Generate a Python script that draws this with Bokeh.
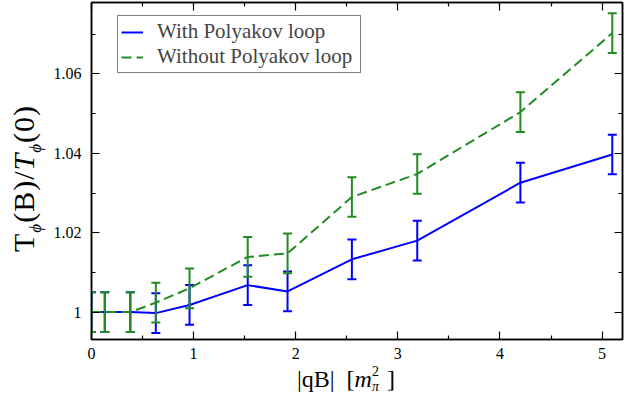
from bokeh.plotting import figure
from bokeh.models import (ColumnDataSource, Legend, LegendItem, FixedTicker, Div,
                          LinearAxis, CustomJSTickFormatter, Range1d)
from bokeh.layouts import row, column
from bokeh.embed import file_html
from bokeh.resources import INLINE

# ---------------- data ----------------
qB = [0.0, 0.13, 0.38, 0.63, 0.96, 1.53, 1.92, 2.55, 3.19, 4.20, 5.10]
with_pl = [1.0, 1.0, 1.0, 0.99975, 1.0018, 1.0068, 1.0052, 1.0133, 1.0180, 1.0326, 1.0397]
without_pl = [1.0, 1.0, 1.0, 1.0024, 1.0060, 1.0139, 1.0148, 1.0290, 1.0348, 1.0504, 1.0703]
err_with = [0.005] * 11
err_without = [0.005] * 11

x_ticks = [0, 1, 2, 3, 4, 5]
x_minor = [0.5, 1.5, 2.5, 3.5, 4.5]
y_ticks = [1.0, 1.02, 1.04, 1.06]
y_minor = [1.01, 1.03, 1.05, 1.07]

series_names = ["With Polyakov loop", "Without Polyakov loop"]

BLUE = "#0000ff"
GREEN = "#228b22"
FONT = "Liberation Serif"

YLAB_W = 46          # width of the y-label strip
PLOT_H = 369         # height of the figure (x-label strip below)

p = figure(width=636 - YLAB_W, height=PLOT_H, output_backend="svg", toolbar_location=None,
           x_range=Range1d(0, 5.2), y_range=Range1d(0.9931, 1.078),
           min_border_left=91 - YLAB_W, min_border_right=14, min_border_top=2,
           min_border_bottom=PLOT_H - 339,
           x_axis_location=None, y_axis_location=None)
p.xgrid.visible = False
p.ygrid.visible = False
p.outline_line_color = "black"
p.outline_line_width = 1.5
p.background_fill_color = "white"
p.border_fill_color = "white"

yfmt = CustomJSTickFormatter(code="return tick.toFixed(2).replace(/\\.?0+$/, '');")
blankfmt = CustomJSTickFormatter(code="return '';")

def make_axis(kind, loc, labels):
    ticker = FixedTicker(ticks=x_ticks if kind == "x" else y_ticks,
                         minor_ticks=x_minor if kind == "x" else y_minor)
    ax = LinearAxis(ticker=ticker)
    if kind == "y":
        ax.formatter = yfmt
    ax.major_tick_in = 8
    ax.major_tick_out = 0
    ax.minor_tick_in = 4
    ax.minor_tick_out = 0
    ax.major_tick_line_width = 1.2
    ax.minor_tick_line_width = 1.2
    ax.axis_line_width = 1.5
    ax.axis_line_color = "black"
    ax.major_label_text_font = FONT
    ax.major_label_text_color = "black"
    if labels:
        ax.major_label_text_font_size = "16px"
        ax.major_label_standoff = 10 if kind == "y" else 8
    else:
        ax.formatter = blankfmt
        ax.major_label_standoff = 0
        ax.axis_label_standoff = 0
    p.add_layout(ax, loc)
    return ax

make_axis("x", "below", True)
make_axis("y", "left", True)
make_axis("x", "above", False)
make_axis("y", "right", False)

def draw(ys, errs, color, dash):
    src = ColumnDataSource(dict(x=qB, y=ys,
                                lo=[v - e for v, e in zip(ys, errs)],
                                hi=[v + e for v, e in zip(ys, errs)]))
    r = p.line("x", "y", source=src, line_color=color, line_width=2, line_dash=dash)
    p.segment(x0="x", y0="lo", x1="x", y1="hi", source=src, line_color=color, line_width=2)
    p.scatter("x", "lo", source=src, marker="dash", size=9, line_color=color, line_width=2)
    p.scatter("x", "hi", source=src, marker="dash", size=9, line_color=color, line_width=2)
    return r

r1 = draw(with_pl, err_with, BLUE, "solid")
r2 = draw(without_pl, err_without, GREEN, "10 5")

legend = Legend(items=[LegendItem(label=series_names[0], renderers=[r1]),
                       LegendItem(label=series_names[1], renderers=[r2])],
                location=(26, 266), padding=3, spacing=0, glyph_width=22, glyph_height=20,
                label_height=20, label_width=200, label_standoff=14, margin=0,
                label_text_font=FONT, label_text_font_size="21px",
                border_line_color="black", border_line_width=1,
                background_fill_alpha=1.0)
p.add_layout(legend, "center")

# ---------------- axis labels as real (HTML) text ----------------
sub = "font-size:17px;vertical-align:-7px;font-style:italic;line-height:0;"
ylab_html = (
    '<div style="width:300px;height:46px;line-height:46px;padding-top:1px;'
    'text-align:center;white-space:nowrap;font-family:\'Liberation Serif\',serif;'
    'font-size:30px;letter-spacing:1px;color:black;'
    'transform-origin:0 0;transform:translate(0px,328.5px) rotate(-90deg);">'
    'T<span style="' + sub + '">ϕ</span>(B)/<i>T</i><span style="' + sub + '">ϕ</span>(0)'
    '</div>'
)
ydiv = Div(text=ylab_html, width=YLAB_W, height=PLOT_H, margin=0,
           styles={"overflow": "visible"})

xlab_html = (
    '<div style="padding-left:297px;line-height:20px;white-space:nowrap;'
    'font-family:\'Liberation Serif\',serif;font-size:24px;color:black;">'
    '|qB|&nbsp; [<i>m</i>'
    '<span style="font-size:14px;vertical-align:11px;line-height:0;">2</span>'
    '<span style="font-size:14px;vertical-align:-4px;margin-left:-7px;'
    'font-style:italic;line-height:0;">π</span>'
    '<span style="margin-left:8px;">]</span></div>'
)
xdiv = Div(text=xlab_html, width=636, height=409 - PLOT_H, margin=0,
           styles={"overflow": "visible"})

layout = column(row(ydiv, p, spacing=0), xdiv, spacing=0)

open("out.html", "w").write(file_html(layout, INLINE))
